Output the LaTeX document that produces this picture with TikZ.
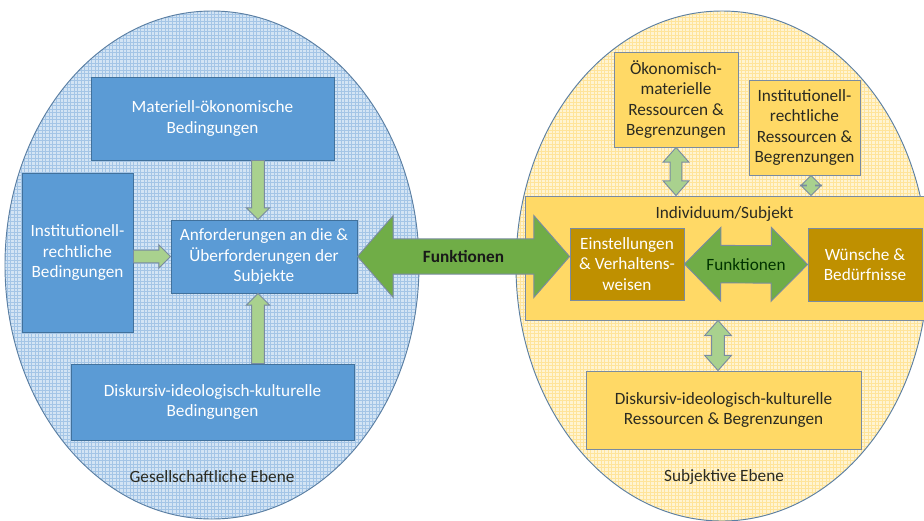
\documentclass[tikz,border=0pt]{standalone}
\usepackage{fontspec}
\setmainfont{Carlito}
\usetikzlibrary{calc, patterns}

\definecolor{gesfill}{HTML}{D3E4F4}
\definecolor{gesgrid}{HTML}{A4C5E6}
\definecolor{subfill}{HTML}{FFF4D2}
\definecolor{subgrid}{HTML}{FFE49A}
\definecolor{ellline}{HTML}{5B7FA3}
\definecolor{boxblue}{HTML}{5B9BD5}
\definecolor{blueline}{HTML}{41719C}
\definecolor{boxgold}{HTML}{FFD966}
\definecolor{boxbrown}{HTML}{BF9000}
\definecolor{goldline}{HTML}{7A8BA0}
\definecolor{arrowlight}{HTML}{A9D18E}
\definecolor{arrowdark}{HTML}{70AD47}
\definecolor{txtdark}{HTML}{2B2B22}

\tikzset{
    bluebox/.style={draw=blueline, fill=boxblue, line width=0.8pt, text=white, align=center},
    goldbox/.style={draw=goldline, fill=boxgold, line width=0.8pt, text=txtdark, align=center},
    brownbox/.style={draw=goldline, fill=boxbrown, line width=0.8pt, text=white, align=center},
    lightarrow/.style={draw=goldline, fill=arrowlight, line width=0.8pt},
    darkarrow/.style={draw=goldline, fill=arrowdark, line width=0.8pt},
    % block arrow with one head: shaft half width, head half width, head length
    single block/.style n args={3}{to path={
        ($(\tikztostart)!#1!90:(\tikztotarget)$) --
        ($(\tikztotarget)!#3!(\tikztostart)!#1!-90:(\tikztostart)$) --
        ($(\tikztotarget)!#3!(\tikztostart)!#2!-90:(\tikztostart)$) --
        (\tikztotarget) --
        ($(\tikztotarget)!#3!(\tikztostart)!#2!90:(\tikztostart)$) --
        ($(\tikztotarget)!#3!(\tikztostart)!#1!90:(\tikztostart)$) --
        ($(\tikztostart)!#1!-90:(\tikztotarget)$) -- cycle}},
    % block arrow with two heads
    double block/.style n args={3}{to path={
        (\tikztostart) --
        ($(\tikztostart)!#3!(\tikztotarget)!#2!90:(\tikztotarget)$) --
        ($(\tikztostart)!#3!(\tikztotarget)!#1!90:(\tikztotarget)$) --
        ($(\tikztotarget)!#3!(\tikztostart)!#1!-90:(\tikztostart)$) --
        ($(\tikztotarget)!#3!(\tikztostart)!#2!-90:(\tikztostart)$) --
        (\tikztotarget) --
        ($(\tikztotarget)!#3!(\tikztostart)!#2!90:(\tikztostart)$) --
        ($(\tikztotarget)!#3!(\tikztostart)!#1!90:(\tikztostart)$) --
        ($(\tikztostart)!#3!(\tikztotarget)!#1!-90:(\tikztotarget)$) --
        ($(\tikztostart)!#3!(\tikztotarget)!#2!-90:(\tikztotarget)$) -- cycle}}
}

\begin{document}
\begin{tikzpicture}[x=0.03cm, y=-0.03cm, font=\fontsize{14.7}{17.6}\selectfont]

    \useasboundingbox (0,0) rectangle (924,520);

    \begin{scope}
        \clip (0,0) rectangle (924,520);
        % the two levels
        \draw[ellline, line width=0.8pt, pattern=grid, pattern color=gesgrid, preaction={fill=gesfill}]
            (212,265) ellipse [x radius=6.21cm, y radius=7.62cm];
        \draw[ellline, line width=0.8pt, pattern=grid, pattern color=subgrid, preaction={fill=subfill}]
            (722,266) ellipse [x radius=6.18cm, y radius=7.65cm];
    \end{scope}

    \node[text=txtdark] (gesebene) at (212,477) {Gesellschaftliche Ebene};
    \node[text=txtdark] (subebene) at (724,477) {Subjektive Ebene};

    % society
    \node[bluebox, minimum width=7.29cm, minimum height=2.49cm] (mat) at (212.5,118.5)
        {Materiell-ökonomische\\Bedingungen};
    \node[bluebox, minimum width=3.33cm, minimum height=4.77cm] (inst) at (77.5,252.5)
        {Institutionell-\\rechtliche\\Bedingungen};
    \node[bluebox, minimum width=5.58cm, minimum height=2.19cm] (anf) at (264,256.5)
        {Anforderungen an die \&\\Überforderungen der\\Subjekte};
    \node[bluebox, minimum width=8.49cm, minimum height=2.28cm] (dis) at (212.5,402)
        {Diskursiv-ideologisch-kulturelle\\Bedingungen};

    % subject
    \node[goldbox, minimum width=11.97cm, minimum height=3.72cm,
        label={[anchor=north, text=txtdark, yshift=-6pt]north:Individuum/Subjekt}] (indiv) at (724.5,258) {};
    \node[brownbox, minimum width=3.42cm, minimum height=2.16cm] (eins) at (627,264)
        {Einstellungen\\\& Verhaltens-\\weisen};
    \node[brownbox, minimum width=3.42cm, minimum height=2.19cm] (wun) at (865,264.5)
        {Wünsche \&\\Bedürfnisse};
    \node[goldbox, minimum width=3.72cm, minimum height=2.85cm] (oek) at (676,99.5)
        {Ökonomisch-\\materielle\\Ressourcen \&\\Begrenzungen};
    \node[goldbox, minimum width=3.33cm, minimum height=2.85cm] (instr) at (804.5,127.5)
        {Institutionell-\\rechtliche\\Ressourcen \&\\Begrenzungen};
    \node[goldbox, minimum width=8.25cm, minimum height=2.34cm] (disr) at (723.5,410)
        {Diskursiv-ideologisch-kulturelle\\Ressourcen \& Begrenzungen};

    \coordinate (mtail) at ($(mat.south)+(45.5,0)$);
    \coordinate (mtip) at (mtail |- anf.north);
    \coordinate (itail) at (inst.east |- anf.west);
    \coordinate (dtail) at (mtail |- dis.north);
    \coordinate (dtip) at (mtail |- anf.south);
    \coordinate (ftip) at (anf.east -| eins.west);
    \coordinate (otip) at (oek.south |- indiv.north);
    \coordinate (rtail) at ($(instr.south)+(6.5,0)$);
    \coordinate (rtip) at (rtail |- indiv.north);
    \coordinate (ltail) at ($(indiv.south)+(-6.5,0)$);
    \coordinate (ltip) at (ltail |- disr.north);

    % arrows
    \draw[lightarrow] (mtail) to[single block={5.5pt}{10pt}{10pt}] (mtip);
    \draw[lightarrow] (itail) to[single block={5.5pt}{10pt}{10pt}] (anf.west);
    \draw[lightarrow] (dtail) to[single block={5.5pt}{10pt}{10pt}] (dtip);

    \draw[lightarrow] (oek.south) to[double block={5pt}{11pt}{12.5pt}] (otip);
    \draw[lightarrow] (rtail) to[double block={4pt}{9pt}{9pt}] (rtip);
    \draw[lightarrow] (ltail) to[double block={5.5pt}{11.5pt}{13pt}] (ltip);

    \draw[darkarrow] (anf.east) to[double block={15pt}{35pt}{30.5pt}] (ftip);
    \draw[darkarrow] (eins.east) to[double block={16pt}{31.5pt}{31pt}] (wun.west);

    \node[font=\fontsize{14.7}{17.6}\selectfont\bfseries, text=black!90] (fktaussen)
        at ($(anf.east)!0.5!(ftip)$) {Funktionen};
    \node[text=black!80!green] (fktinnen) at ($(eins.east)!0.5!(wun.west)$) {Funktionen};

\end{tikzpicture}
\end{document}
